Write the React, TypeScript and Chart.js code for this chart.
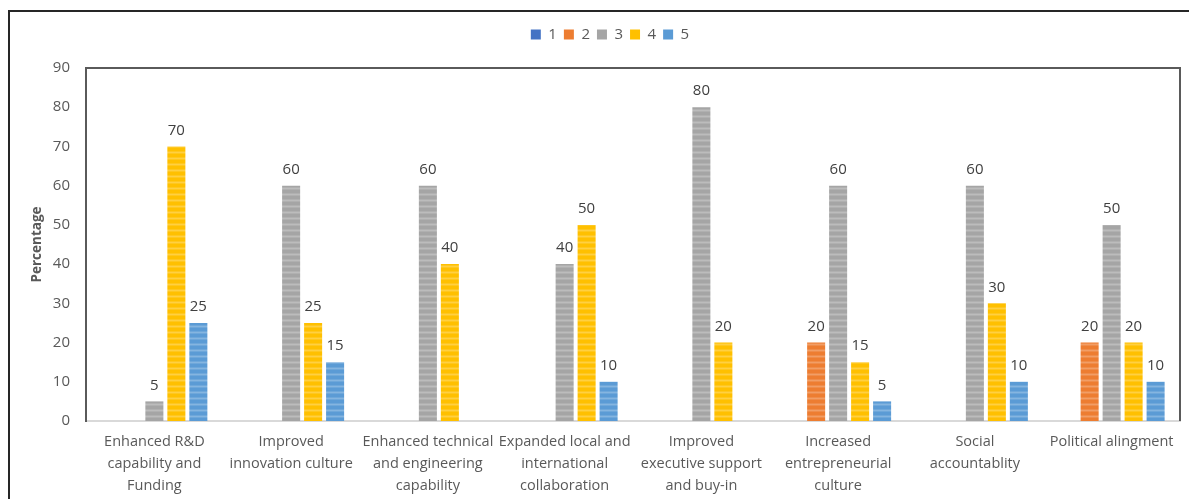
import React, { useEffect, useRef } from "react";
import { Chart, registerables } from "chart.js";

Chart.register(...registerables);

const categories: string[][] = [
  ["Enhanced R&D", "capability and", "Funding"],
  ["Improved", "innovation culture"],
  ["Enhanced technical", "and engineering", "capability"],
  ["Expanded local and", "international", "collaboration"],
  ["Improved", "executive support", "and buy-in"],
  ["Increased", "entrepreneurial", "culture"],
  ["Social", "accountablity"],
  ["Political alingment"],
];

const seriesNames = ["1", "2", "3", "4", "5"];
const series1: (number | null)[] = [null, null, null, null, null, null, null, null];
const series2: (number | null)[] = [null, null, null, null, null, 20, null, 20];
const series3: (number | null)[] = [5, 60, 60, 40, 80, 60, 60, 50];
const series4: (number | null)[] = [70, 25, 40, 50, 20, 15, 30, 20];
const series5: (number | null)[] = [25, 15, null, 10, null, 5, 10, 10];
const seriesColors = ["#4472C4", "#ED7D31", "#A5A5A5", "#FFC000", "#5B9BD5"];

const yMin = 0;
const yMax = 90;
const yStep = 10;
const yTitle = "Percentage";

const FONT = "'Open Sans', 'Noto Sans', sans-serif";
const TEXT = "#595959";

function makePattern(ctx: CanvasRenderingContext2D, color: string): CanvasPattern | string {
  const c = document.createElement("canvas");
  c.width = 8;
  c.height = 6;
  const g = c.getContext("2d");
  if (!g) return color;
  g.fillStyle = color;
  g.fillRect(0, 0, 8, 6);
  g.fillStyle = "rgba(255,255,255,0.12)";
  g.fillRect(0, 1, 8, 1);
  g.fillStyle = "rgba(255,255,255,0.26)";
  g.fillRect(0, 2, 8, 1);
  g.fillStyle = "rgba(255,255,255,0.12)";
  g.fillRect(0, 3, 8, 1);
  const p = ctx.createPattern(c, "repeat");
  return p || color;
}

export default function App() {
  const ref = useRef<HTMLCanvasElement | null>(null);

  useEffect(() => {
    const canvas = ref.current;
    if (!canvas) return;
    const ctx = canvas.getContext("2d");
    if (!ctx) return;
    const all = [series1, series2, series3, series4, series5];

    const legendFit = {
      id: "legendFit",
      beforeInit(chart: any) {
        const orig = chart.legend.fit;
        chart.legend.fit = function fit() {
          orig.bind(chart.legend)();
          this.height = 48;
        };
      },
    };

    const frame = {
      id: "frame",
      afterDraw(chart: any) {
        const { left, right, top, bottom } = chart.chartArea;
        const c = chart.ctx;
        c.save();
        c.strokeStyle = "#5a5a5a";
        c.lineWidth = 2;
        c.beginPath();
        c.moveTo(left, bottom);
        c.lineTo(left, top);
        c.lineTo(right, top);
        c.lineTo(right, bottom);
        c.stroke();
        c.restore();
      },
    };

    const labels = {
      id: "valueLabels",
      afterDatasetsDraw(chart: any) {
        const c = chart.ctx;
        c.save();
        c.font = `15px ${FONT}`;
        c.fillStyle = "#404040";
        c.textAlign = "center";
        c.textBaseline = "middle";
        chart.data.datasets.forEach((ds: any, i: number) => {
          const meta = chart.getDatasetMeta(i);
          meta.data.forEach((el: any, j: number) => {
            const v = ds.data[j];
            if (v === null || v === undefined) return;
            c.fillText(String(v), el.x, el.y - 16);
          });
        });
        c.restore();
      },
    };

    const chart = new Chart(ctx, {
      type: "bar",
      data: {
        labels: categories,
        datasets: seriesNames.map((name, i) => ({
          label: name,
          data: all[i],
          backgroundColor: makePattern(ctx, seriesColors[i]) as any,
          borderWidth: 0,
          barPercentage: 0.82,
          categoryPercentage: 0.804,
        })),
      },
      options: {
        animation: false,
        responsive: false,
        maintainAspectRatio: false,
        events: [],
        layout: { padding: { top: 20, right: 30, left: 40, bottom: 0 } },
        plugins: {
          tooltip: { enabled: false },
          legend: {
            position: "top",
            align: "center",
            labels: {
              boxWidth: 10,
              boxHeight: 10,
              padding: 7,
              color: TEXT,
              font: { size: 15, family: FONT },
              generateLabels(chart: any) {
                return chart.data.datasets.map((ds: any, i: number) => ({
                  text: ds.label,
                  fillStyle: seriesColors[i],
                  strokeStyle: seriesColors[i],
                  lineWidth: 0,
                  hidden: false,
                  datasetIndex: i,
                  fontColor: TEXT,
                }));
              },
            },
          },
        },
        scales: {
          x: {
            grid: { display: false, drawTicks: false },
            border: { display: true, color: "#d9d9d9", width: 2 },
            ticks: {
              color: TEXT,
              font: { size: 14.5, family: FONT, lineHeight: 1.52 },
              padding: 10,
              autoSkip: false,
              maxRotation: 0,
              minRotation: 0,
            },
            afterFit(scale: any) {
              scale.height = 78;
            },
          },
          y: {
            min: yMin,
            max: yMax,
            grid: { display: false, drawTicks: false },
            border: { display: true, color: "#5a5a5a", width: 2 },
            ticks: {
              stepSize: yStep,
              color: TEXT,
              font: { size: 15, family: FONT },
              padding: 16,
            },
            title: {
              display: true,
              text: yTitle,
              color: TEXT,
              font: { size: 13.5, weight: "bold", family: FONT },
              padding: { top: -11, bottom: 0 },
            },
            afterFit(scale: any) {
              scale.width = 46;
            },
          },
        },
      },
      plugins: [legendFit, frame, labels],
    });

    return () => chart.destroy();
  }, []);

  return (
    <div
      style={{
        position: "absolute",
        left: 0,
        top: 0,
        width: 1189,
        height: 499,
        overflow: "hidden",
        background: "#fff",
      }}
    >
      <canvas
        ref={ref}
        width={1210}
        height={499}
        style={{ position: "absolute", left: 0, top: 0, width: 1210, height: 499 }}
      />
      <div
        style={{
          position: "absolute",
          left: 8,
          top: 10,
          width: 1300,
          height: 600,
          borderTop: "2px solid #262626",
          borderLeft: "2px solid #262626",
          pointerEvents: "none",
        }}
      />
    </div>
  );
}
